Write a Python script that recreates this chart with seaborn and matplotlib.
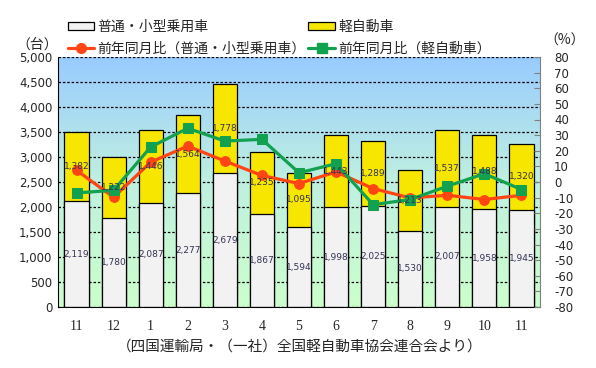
import numpy as np
import pandas as pd
import matplotlib
matplotlib.use("Agg")
import matplotlib.pyplot as plt
import seaborn as sns
from matplotlib.lines import Line2D
from matplotlib.patches import Patch
from matplotlib.colors import LinearSegmentedColormap

sns.set_style("white")
plt.rcParams['font.family'] = ['Noto Sans CJK JP', 'DejaVu Sans']

# data
months = ["11", "12", "1", "2", "3", "4", "5", "6", "7", "8", "9", "10", "11"]
futsuu = [2119, 1780, 2087, 2277, 2679, 1867, 1594, 1998, 2025, 1530, 2007, 1958, 1945]
kei = [1382, 1222, 1446, 1564, 1778, 1235, 1095, 1443, 1289, 1213, 1537, 1488, 1320]
futsuu_yoy = [7.5, -9.8, 12.7, 23.0, 13.4, 4.2, -1.0, 6.5, -4.2, -10.2, -8.5, -11.2, -8.5]
kei_yoy = [-7.0, -5.3, 22.4, 34.4, 26.2, 27.3, 5.9, 11.7, -14.5, -11.2, -2.7, 5.3, -4.8]

c_white = "#f2f2f2"
c_yellow = "#f7e600"
c_red = "#ff4513"
c_green = "#12a150"
c_lab = "#333355"

pos = np.arange(len(months))
df = pd.DataFrame({"pos": pos, "futsuu": futsuu, "kei": kei})
df["total"] = df["futsuu"] + df["kei"]

fig = plt.figure(figsize=(5.96, 3.68), dpi=100)
ax = fig.add_axes([58 / 596, 61 / 368, 482 / 596, 250 / 368])

# gradient background
cmap = LinearSegmentedColormap.from_list("bg", ["#ccffcc", "#bff0e0", "#99ccff"])
grad = np.linspace(0, 1, 256).reshape(-1, 1)
ax.imshow(grad, extent=[0, 1, 0, 1], transform=ax.transAxes, cmap=cmap,
          origin="lower", aspect="auto", zorder=0)

sns.barplot(data=df, x="pos", y="total", native_scale=True, color=c_yellow,
            saturation=1, width=0.65, edgecolor="black", linewidth=0.9, ax=ax, zorder=2)
sns.barplot(data=df, x="pos", y="futsuu", native_scale=True, color=c_white,
            saturation=1, width=0.65, edgecolor="black", linewidth=0.9, ax=ax, zorder=2)

ax.set_xlim(-0.5, 12.5)
ax.set_ylim(0, 5000)
ax.set_yticks(range(0, 5001, 500))
ax.set_yticklabels([f"{v:,}" for v in range(0, 5001, 500)], family="DejaVu Sans", fontsize=8.5)
ax.set_xticks(pos + 0.5, minor=False)
ax.set_xticklabels([])
ax.set_xticks(pos, minor=True)
ax.set_xticklabels(months, minor=True, family="Liberation Serif", fontsize=10)
ax.tick_params(axis="x", which="major", direction="in", length=4, width=0.9, color="black")
ax.tick_params(axis="x", which="minor", length=0, pad=9)
ax.tick_params(axis="y", length=0, pad=4)
ax.set_xlabel("")
ax.set_ylabel("")
ax.set_axisbelow(True)
ax.yaxis.grid(True, color="black", linestyle=(0, (2, 1.5)), linewidth=0.9)
ax.xaxis.grid(False)
ax.spines["top"].set_visible(False)
ax.spines["left"].set_color("black")
ax.spines["bottom"].set_color("black")
ax.spines["right"].set_visible(False)

ax2 = ax.twinx()
sns.lineplot(x=pos, y=futsuu_yoy, ax=ax2, color=c_red, marker="o", markersize=7,
             markeredgecolor=c_red, linewidth=2.3, zorder=3)
sns.lineplot(x=pos, y=kei_yoy, ax=ax2, color=c_green, marker="s", markersize=6.5,
             markeredgecolor=c_green, linewidth=2.3, zorder=3)
ax2.set_ylim(-80, 80)
ax2.set_yticks(range(-80, 81, 10))
ax2.set_yticklabels([str(v) for v in range(-80, 81, 10)], family="DejaVu Sans", fontsize=8.5)
ax2.tick_params(axis="y", direction="in", length=4, color="#808080", pad=10)
ax2.set_ylabel("")
ax2.spines["top"].set_visible(False)
ax2.spines["left"].set_visible(False)
ax2.spines["bottom"].set_visible(False)
ax2.spines["right"].set_color("#808080")
ax.set_xlim(-0.5, 12.5)

# data labels
for i in pos:
    ax2.text(i, futsuu[i] / 2, f"{futsuu[i]:,}", transform=ax.transData, ha="center",
             va="center", fontsize=6.5, color=c_lab, family="DejaVu Sans", zorder=5)
    ax2.text(i, futsuu[i] + kei[i] / 2, f"{kei[i]:,}", transform=ax.transData, ha="center",
             va="center", fontsize=6.5, color=c_lab, family="DejaVu Sans", zorder=5)

fig.text(37 / 596, 1 - 45 / 368, "（台）", ha="center", va="center", fontsize=10)
fig.text(565 / 596, 1 - 41 / 368, "（%）", ha="center", va="center", fontsize=10)
fig.text(300 / 596, 1 - 347 / 368, "（四国運輸局・（一社）全国軽自動車協会連合会より）",
         ha="center", va="center", fontsize=10.5)

handles = [
    Patch(facecolor=c_white, edgecolor="black", linewidth=0.9),
    Line2D([], [], color=c_red, marker="o", markersize=7, linewidth=2.3),
    Patch(facecolor=c_yellow, edgecolor="black", linewidth=0.9),
    Line2D([], [], color=c_green, marker="s", markersize=6.5, linewidth=2.3),
]
labels = ["普通・小型乗用車", "前年同月比（普通・小型乗用車）", "軽自動車", "前年同月比（軽自動車）"]
fig.legend(handles, labels, ncol=2, loc="upper left", bbox_to_anchor=(62 / 596, 1 - 14 / 368),
           frameon=False, fontsize=10, handlelength=1.9, handleheight=0.5,
           columnspacing=0.2, labelspacing=0.55, handletextpad=0.25, borderaxespad=0)

fig.savefig("out.png", dpi=100)
